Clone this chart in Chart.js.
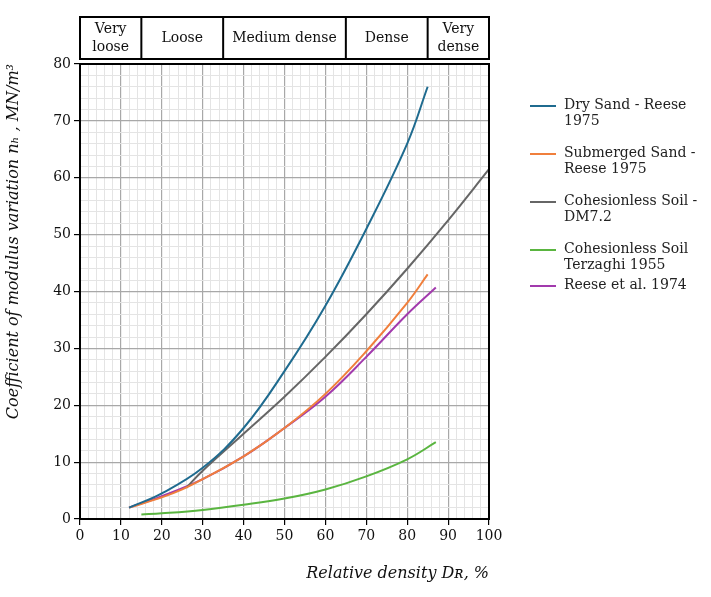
<!DOCTYPE html>
<html><head><meta charset="utf-8">
<script src="https://cdn.jsdelivr.net/npm/chart.js@4"></script>
<style>
body{margin:0;background:#fff;}
#wrap{position:relative;width:711px;height:597px;}
#legend{position:absolute;left:530px;top:96px;font-family:"DejaVu Serif","Liberation Serif",serif;font-size:14px;color:#222;}
.it{display:flex;align-items:flex-start;margin-bottom:10px;}
.sw{width:26px;height:2px;margin-top:9px;margin-right:8px;flex:none;}
</style></head><body>
<div id="wrap"><canvas id="c" width="711" height="597"></canvas>
<div id="legend"></div></div>
<script>
const bands=[{from:0,to:15,label:["Very","loose"]},{from:15,to:35,label:["Loose"]},{from:35,to:65,label:["Medium dense"]},{from:65,to:85,label:["Dense"]},{from:85,to:100,label:["Very","dense"]}];
const names=["Dry Sand - Reese 1975","Submerged Sand - Reese 1975","Cohesionless Soil - DM7.2","Cohesionless Soil Terzaghi 1955","Reese et al. 1974"];
const legendLines=[["Dry Sand - Reese","1975"],["Submerged Sand -","Reese 1975"],["Cohesionless Soil -","DM7.2"],["Cohesionless Soil","Terzaghi 1955"],["Reese et al. 1974"]];
const colors=["#1f6b8f","#f07f3c","#666666","#5ab540","#a23aad"];
const dryX=[12,20,30,40,50,60,70,80,85], dryY=[2,4.5,9,16,26,37.5,51,66,76];
const subX=[12,20,25,30,40,50,60,70,80,85], subY=[2,3.8,5.2,7,11,16,22,29.5,38,43];
const dmX=[26,30,40,50,60,70,80,90,100], dmY=[5.5,8.5,15,21.5,28.5,36,44,52.5,61.5];
const terX=[15,20,30,40,50,60,70,80,87], terY=[0.8,1,1.6,2.5,3.6,5.2,7.5,10.5,13.5];
const reX=[12,20,30,40,50,60,70,80,87], reY=[2,4,7,11,16,21.5,28.5,36,40.7];
const xs=[dryX,subX,dmX,terX,reX], ys=[dryY,subY,dmY,terY,reY];
const lg=document.getElementById('legend');
legendLines.forEach((l,i)=>{lg.innerHTML+=`<div class="it" style="margin-bottom:${i==3?4:16}px"><div class="sw" style="background:${colors[i]}"></div><div>${l.join('<br>')}</div></div>`;});
const bandPlugin={id:'bands',afterDraw(ch){const c=ch.ctx,x=ch.scales.x,t=17,b=59;c.save();c.strokeStyle='#000';c.lineWidth=2;
c.strokeRect(x.getPixelForValue(0),t,x.getPixelForValue(100)-x.getPixelForValue(0),b-t);
c.font='14px "DejaVu Serif", serif';c.fillStyle='#111';c.textAlign='center';c.textBaseline='middle';
bands.forEach(bd=>{const x0=x.getPixelForValue(bd.from),x1=x.getPixelForValue(bd.to);if(bd.from>0){c.beginPath();c.moveTo(x0,t);c.lineTo(x0,b);c.stroke();}
const cx=(x0+x1)/2;if(bd.label.length==1)c.fillText(bd.label[0],cx,(t+b)/2);else{c.fillText(bd.label[0],cx,t+12);c.fillText(bd.label[1],cx,t+30);}});
c.restore();}};
const font={family:'"DejaVu Serif", serif',size:14};
const maj=c=>c.tick&&c.tick.value%10==0;
new Chart(document.getElementById('c'),{type:'line',
data:{datasets:names.map((n,i)=>({label:n,data:xs[i].map((v,j)=>({x:v,y:ys[i][j]})),borderColor:colors[i],borderWidth:2,pointRadius:0,tension:0.4,fill:false}))},
options:{responsive:false,animation:false,layout:{padding:{top:64,right:222,bottom:10,left:0}},
plugins:{legend:{display:false},tooltip:{enabled:false}},
scales:{x:{type:'linear',min:0,max:100,ticks:{stepSize:2,maxRotation:0,minRotation:0,color:'#111',font,autoSkip:false,callback:v=>v%10==0?v:''},
grid:{color:c=>maj(c)?'#a8a8a8':'#e4e4e4',lineWidth:c=>maj(c)?1.2:1,tickLength:6,tickColor:c=>maj(c)?'#000':'rgba(0,0,0,0)'},border:{color:'#000',width:2},
title:{display:true,text:'Relative density D\u0280, %',color:'#111',font:{family:'"DejaVu Serif", serif',size:16,style:'italic'},align:'end',padding:{top:14}},
afterFit:s=>{s.height=68;}},
y:{min:0,max:80,ticks:{stepSize:2,color:'#111',font,autoSkip:false,callback:v=>v%10==0?v:''},
grid:{color:c=>maj(c)?'#a8a8a8':'#e4e4e4',lineWidth:c=>maj(c)?1.2:1,tickLength:6,tickColor:c=>maj(c)?'#000':'rgba(0,0,0,0)'},border:{color:'#000',width:2},
title:{display:true,text:'Coefficient of modulus variation n\u2095 , MN/m\u00B3',color:'#111',font:{family:'"DejaVu Serif", serif',size:16,style:'italic'},align:'end'},
afterFit:s=>{s.width=80;}}}},
plugins:[bandPlugin,{id:'frame',afterDraw(ch){const a=ch.chartArea,c=ch.ctx;c.save();c.strokeStyle='#000';c.lineWidth=2;c.strokeRect(a.left,a.top,a.right-a.left,a.bottom-a.top);c.restore();}}]});
</script></body></html>
